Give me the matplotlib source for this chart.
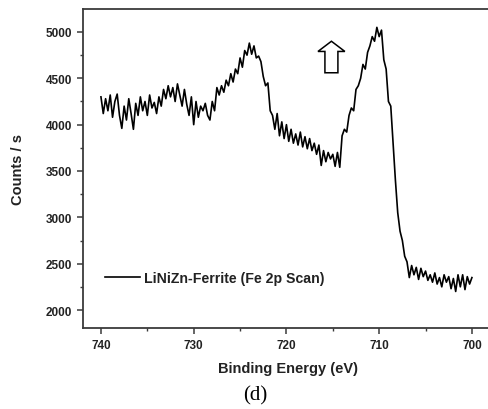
import numpy as np
import matplotlib
matplotlib.use('Agg')
import matplotlib.pyplot as plt
from matplotlib.patches import FancyArrow
from matplotlib.ticker import MultipleLocator

plt.rcParams['font.family'] = ['Liberation Sans', 'DejaVu Sans']

# binding energy, 740 -> 700 eV in 0.25 eV steps
energy = np.arange(740, 699.99, -0.25)

counts = [
    4300, 4120, 4280, 4150,
    4320, 4080, 4250, 4330,
    4100, 3960, 4200, 4050,
    4280, 4120, 3950, 4230,
    4100, 4300, 4150, 4250,
    4100, 4320, 4180, 4240,
    4120, 4300, 4200, 4380,
    4280, 4420, 4300, 4400,
    4250, 4440, 4320, 4200,
    4380, 4220, 4100, 4300,
    4000, 4250, 4080, 4200,
    4150, 4230, 4100, 4050,
    4250, 4150, 4400, 4320,
    4420, 4350, 4480, 4420,
    4550, 4460, 4600, 4550,
    4720, 4620, 4800, 4750,
    4880, 4760, 4850, 4720,
    4740, 4680, 4520, 4420,
    4450, 4150, 4100, 3950,
    4120, 3880, 4030, 3850,
    4000, 3820, 3950, 3800,
    3900, 3780, 3920, 3760,
    3870, 3740, 3850, 3720,
    3800, 3680, 3780, 3560,
    3720, 3600, 3700, 3630,
    3680, 3550, 3700, 3540,
    3880, 3950, 3920, 4100,
    4180, 4150, 4380, 4420,
    4500, 4650, 4600, 4780,
    4850, 4950, 4900, 5050,
    4950, 5020, 4700, 4600,
    4250, 4200, 3800, 3400,
    3050, 2850, 2750, 2580,
    2520, 2350, 2480, 2380,
    2460, 2330, 2450, 2360,
    2420, 2320, 2380, 2300,
    2400, 2280, 2350, 2250,
    2380, 2300, 2360, 2230,
    2340, 2200, 2380, 2250,
    2380, 2220, 2360, 2280,
    2350,
]

label = 'LiNiZn-Ferrite (Fe 2p Scan)'
arrow_x = 715.15
arrow_base, arrow_len = 4560, 340

fig = plt.figure(figsize=(4.88, 4.10), dpi=100)
ax = fig.add_axes([0.170, 0.1976, 0.84, 0.778])

ax.plot(energy, counts, color='black', lw=1.2, label=label)

ax.add_patch(FancyArrow(arrow_x, arrow_base, 0, arrow_len, width=1.4,
                        head_width=2.9, head_length=110,
                        length_includes_head=True,
                        facecolor='white', edgecolor='black', lw=1.1))

ax.set_xlim(741.94, 697.74)
ax.set_ylim(1806, 5248)
ax.xaxis.set_major_locator(MultipleLocator(10))
ax.xaxis.set_minor_locator(MultipleLocator(5))
ax.yaxis.set_major_locator(MultipleLocator(500))
ax.yaxis.set_minor_locator(MultipleLocator(250))

for s in ax.spines.values():
    s.set_color('#3a3a3a')
    s.set_linewidth(1.3)
ax.tick_params(which='major', direction='out', length=4, width=1.1,
               color='#3a3a3a', labelsize=8.5, pad=4)
ax.tick_params(which='minor', direction='out', length=2.5, width=1.0,
               color='#3a3a3a')
for t in ax.get_xticklabels() + ax.get_yticklabels():
    t.set_fontweight('bold')
    t.set_color('#222222')

ax.set_xlabel('Binding Energy (eV)', fontsize=10.5, fontweight='bold',
              color='#222222', labelpad=7)
ax.set_ylabel('Counts / s', fontsize=10.5, fontweight='bold',
              color='#222222', labelpad=15)

leg = ax.legend(loc='center left', bbox_to_anchor=(0.022, 0.157), frameon=False,
                handlelength=2.5, handletextpad=0.3,
                prop={'size': 10.2, 'weight': 'bold'})
for t in leg.get_texts():
    t.set_color('#222222')

fig.text(0.523, 0.034, '(d)', fontsize=15, family='Liberation Serif',
         ha='center', va='center')

fig.savefig('out.png', dpi=100)
